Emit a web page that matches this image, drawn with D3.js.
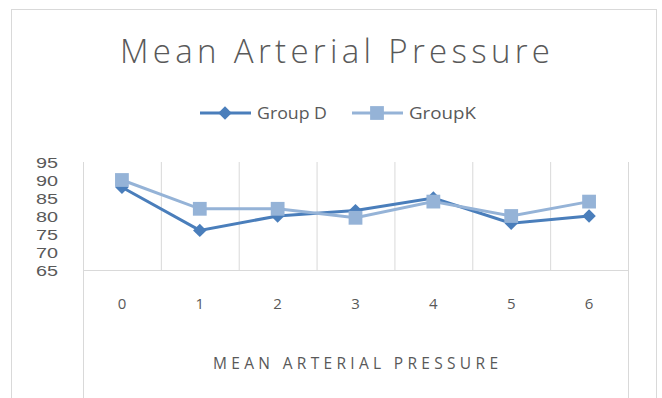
<!DOCTYPE html>
<html><head><meta charset="utf-8">
<script src="https://cdn.jsdelivr.net/npm/d3@7"></script>
<style>body{margin:0;background:#fff;} svg{display:block;font-family:"Open Sans","Liberation Sans",sans-serif;}</style>
</head><body>
<svg id="c" width="662" height="398"></svg>
<script>
const categories = ["0","1","2","3","4","5","6"];
const groupD = [88, 76, 80, 81.5, 85, 78, 80];
const groupK = [90, 82, 82, 79.5, 84, 80, 84];
const yTicks = [65, 70, 75, 80, 85, 90, 95];
const seriesNames = ["Group D", "GroupK"];

const svg = d3.select("#c");
const grid = "#d9d9d9", txt = "#595959";
const colD = "#4A7EBB", colK = "#95B3D7";

// outer border
svg.append("rect").attr("x",11.5).attr("y",9.5).attr("width",645).attr("height",400)
  .attr("fill","none").attr("stroke",grid);

const x = d3.scaleBand().domain(categories).range([83,628]);
const y = d3.scaleLinear().domain([65,95]).range([270,162]);

// title
svg.append("text").attr("x",120).attr("y",63)
  .attr("font-size",33).attr("fill",txt).attr("font-weight",300)
  .attr("textLength",430).attr("lengthAdjust","spacing")
  .text("Mean Arterial Pressure");

// vertical gridlines
const bounds = categories.map(c=>x(c)).concat([x.range()[1]]);
svg.append("g").selectAll("line").data(bounds).join("line")
  .attr("x1",d=>d+0.5).attr("x2",d=>d+0.5).attr("y1",y(95)).attr("y2",(d,i)=> (i===0||i===bounds.length-1)?398:270)
  .attr("stroke",grid);
// x axis line
svg.append("line").attr("x1",83).attr("x2",628).attr("y1",270.5).attr("y2",270.5).attr("stroke",grid);

// y labels
svg.append("g").selectAll("text").data(yTicks).join("text")
  .attr("x",58).attr("y",d=>y(d)).attr("dy","0.36em").attr("text-anchor","end")
  .attr("font-family","Liberation Sans, sans-serif")
  .attr("font-size",15.5).attr("textLength",22).attr("lengthAdjust","spacingAndGlyphs")
  .attr("fill",txt).text(d=>d);

// x labels
svg.append("g").selectAll("text").data(categories).join("text")
  .attr("x",d=>x(d)+x.bandwidth()/2).attr("y",304).attr("dy","0.36em").attr("text-anchor","middle")
  .attr("font-size",15).attr("fill",txt).text(d=>d);

// axis title
svg.append("text").attr("x",213).attr("y",363).attr("dy","0.36em")
  .attr("font-size",15.5).attr("textLength",285).attr("lengthAdjust","spacing")
  .attr("fill",txt).text("MEAN ARTERIAL PRESSURE");

const line = d3.line().x((d,i)=>x(categories[i])+x.bandwidth()/2).y(d=>y(d));
const diamond = d3.symbol().type(d3.symbolDiamond2).size(115);
const square = d3.symbol().type(d3.symbolSquare).size(190);

function drawSeries(vals,col,sym){
  svg.append("path").datum(vals).attr("d",line).attr("fill","none").attr("stroke",col).attr("stroke-width",3);
  svg.append("g").selectAll("path").data(vals).join("path")
    .attr("transform",(d,i)=>`translate(${x(categories[i])+x.bandwidth()/2},${y(d)})`)
    .attr("d",sym).attr("fill",col);
}
drawSeries(groupD,colD,diamond);
drawSeries(groupK,colK,square);

// legend
const leg = [{n:seriesNames[0],c:colD,s:diamond,x0:200,w:70},{n:seriesNames[1],c:colK,s:square,x0:352,w:67}];
leg.forEach(l=>{
  svg.append("line").attr("x1",l.x0).attr("x2",l.x0+51).attr("y1",113).attr("y2",113).attr("stroke",l.c).attr("stroke-width",3);
  svg.append("path").attr("transform",`translate(${l.x0+25},113)`).attr("d",l.s).attr("fill",l.c);
  svg.append("text").attr("x",l.x0+57).attr("y",113).attr("dy","0.36em").attr("font-size",17)
    .attr("textLength",l.w).attr("lengthAdjust","spacingAndGlyphs").attr("fill",txt).text(l.n);
});
</script>
</body></html>
